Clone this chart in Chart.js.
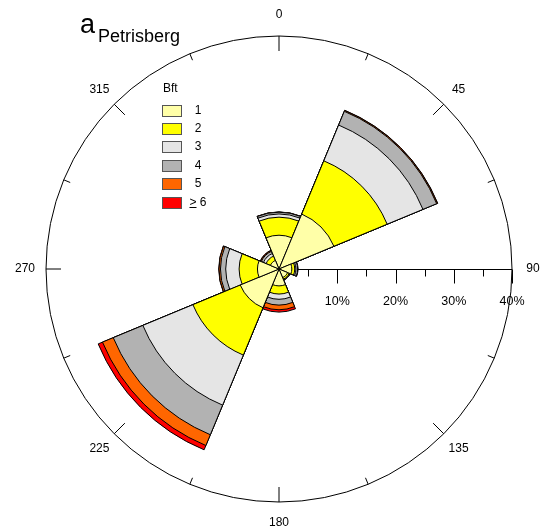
<!DOCTYPE html>
<html>
<head>
<meta charset="utf-8">
<title>Petrisberg wind rose</title>
<script src="https://cdn.jsdelivr.net/npm/chart.js@4/dist/chart.umd.min.js"></script>
<style>
  html, body { margin: 0; padding: 0; background: #fff; }
  #wrap { position: relative; width: 541px; height: 530px; overflow: hidden;
          font-family: "Liberation Sans", Arial, sans-serif; color: #000; }
  #rose { position: absolute; left: 0; top: 0; }
  .ttl { position: absolute; white-space: nowrap; line-height: 1; }
  #ttl-a { left: 80px; top: 10.5px; font-size: 27px; }
  #ttl-sub { left: 98px; top: 26.5px; font-size: 18px; }
  #legend-head { position: absolute; left: 163px; top: 82px; font-size: 12px; line-height: 1; }
  .lg-box { position: absolute; width: 18px; height: 10px; border: 1px solid #555; }
  .lg-txt { position: absolute; width: 30px; text-align: center; font-size: 12px; line-height: 1; }
  .ge { text-decoration: underline; }
</style>
</head>
<body>
<div id="wrap">
  <canvas id="rose" width="541" height="530"></canvas>
  <div id="ttl-a" class="ttl">a</div>
  <div id="ttl-sub" class="ttl">Petrisberg</div>
  <div id="legend-head">Bft</div>
  <div id="legend"></div>
</div>
<script>
// Direction sectors (bearing of sector centre, degrees)
const directions = ['0', '45', '90', '135', '180', '225', '270', '315'];

// Frequency (%) per direction for each Beaufort class
const bft1 = [5.8, 10.2, 2.2, 1.6, 2.9, 7.2, 3.7, 1.6];
const bft2 = [3.1, 9.9, 0.5, 0.3, 1.4, 8.8, 3.15, 0.8];
const bft3 = [0.55, 6.65, 0.2, 0.1, 0.9, 9.3, 2.3, 0.5];
const bft4 = [0.3, 2.55, 0.3, 0.05, 1.0, 5.5, 0.9, 0.4];
const bft5 = [0.03, 0.15, 0.05, 0.0, 0.8, 2.0, 0.25, 0.15];
const bft6 = [0.02, 0.05, 0.0, 0.0, 0.4, 0.8, 0.05, 0.05];

const classLabels = ['1', '2', '3', '4', '5', '6'];
const classColors = ['#FFFFA8', '#FFFF00', '#E5E5E5', '#B2B2B2', '#FF6600', '#FF0000'];

// Compass labels and radial scale ticks
const compassLabels = ['0', '45', '90', '135', '180', '225', '270', '315'];
const radialTicks = [10, 20, 30, 40];
const radialMinorTicks = [5, 15, 25, 35];
const radialMax = 40;

// Stack the classes: each dataset holds the running total, so the
// smaller totals are painted over the larger ones.
const classes = [bft1, bft2, bft3, bft4, bft5, bft6];
const running = new Array(directions.length).fill(0);
const datasets = classes.map((vals, i) => {
  const cum = vals.map((v, j) => (running[j] += v));
  return {
    label: classLabels[i],
    data: cum.slice(),
    backgroundColor: classColors[i],
    borderColor: '#000',
    borderWidth: 1
  };
});

const FONT = '"Liberation Sans", Arial, sans-serif';

const compassPlugin = {
  id: 'compass',
  beforeDatasetsDraw(chart) {
    // radial scale drawn along the east axis
    const s = chart.scales.r;
    const ctx = chart.ctx;
    const cx = s.xCenter, cy = s.yCenter + 0.5;
    const R = s.getDistanceFromCenterForValue(radialMax);
    ctx.save();
    ctx.strokeStyle = '#000';
    ctx.lineWidth = 1;
    ctx.beginPath();
    ctx.moveTo(cx, cy);
    ctx.lineTo(cx + R, cy);
    ctx.stroke();
    const tick = (v, len) => {
      const x = Math.round(cx + s.getDistanceFromCenterForValue(v)) + 0.5;
      ctx.beginPath();
      ctx.moveTo(x, cy);
      ctx.lineTo(x, cy + len);
      ctx.stroke();
    };
    radialMinorTicks.forEach(v => tick(v, 7));
    radialTicks.forEach(v => tick(v, 14));
    ctx.fillStyle = '#000';
    ctx.font = '12.5px ' + FONT;
    ctx.textAlign = 'center';
    ctx.textBaseline = 'middle';
    radialTicks.forEach(v => {
      ctx.fillText(v + '%', cx + s.getDistanceFromCenterForValue(v), cy + 32);
    });
    ctx.restore();
  },
  afterDatasetsDraw(chart) {
    const s = chart.scales.r;
    const ctx = chart.ctx;
    const cx = s.xCenter, cy = s.yCenter;
    const R = s.getDistanceFromCenterForValue(radialMax);
    ctx.save();
    ctx.strokeStyle = '#000';
    ctx.lineWidth = 1;
    for (let k = 0; k < 16; k++) {
      const b = k * 22.5;
      if (b === 90) continue;
      const a = (b - 90) * Math.PI / 180;
      const len = k % 2 === 0 ? 15 : 7;
      ctx.beginPath();
      ctx.moveTo(cx + R * Math.cos(a), cy + R * Math.sin(a));
      ctx.lineTo(cx + (R - len) * Math.cos(a), cy + (R - len) * Math.sin(a));
      ctx.stroke();
    }
    ctx.fillStyle = '#000';
    ctx.font = '12px ' + FONT;
    ctx.textAlign = 'center';
    ctx.textBaseline = 'middle';
    compassLabels.forEach((t, i) => {
      const a = (i * 45 - 90) * Math.PI / 180;
      ctx.fillText(t, cx + (R + 21) * Math.cos(a), cy + (R + 21) * Math.sin(a));
    });
    ctx.restore();
  }
};

new Chart(document.getElementById('rose'), {
  type: 'polarArea',
  data: { labels: directions, datasets },
  options: {
    responsive: false,
    animation: false,
    events: [],
    devicePixelRatio: 1,
    layout: { padding: { left: 46, right: 29, top: 36, bottom: 28 } },
    plugins: { legend: { display: false }, tooltip: { enabled: false } },
    scales: {
      r: {
        min: 0,
        max: radialMax,
        startAngle: -22.5,
        ticks: { display: false, stepSize: 10 },
        angleLines: { display: false },
        pointLabels: { display: false },
        grid: {
          circular: true,
          lineWidth: 1,
          color: ctx => (ctx.tick && ctx.tick.value === radialMax ? '#000' : 'rgba(0,0,0,0)')
        }
      }
    }
  },
  plugins: [compassPlugin]
});

// Legend built from the class arrays
const legend = document.getElementById('legend');
classLabels.forEach((lab, i) => {
  const y = 104.5 + i * 18.4;
  const box = document.createElement('div');
  box.className = 'lg-box';
  box.style.left = '162px';
  box.style.top = y + 'px';
  box.style.background = classColors[i];
  legend.appendChild(box);
  const txt = document.createElement('div');
  txt.className = 'lg-txt';
  txt.style.left = '183px';
  txt.style.top = (y - 1) + 'px';
  if (i === classLabels.length - 1) {
    txt.innerHTML = '<span class="ge">&gt;</span> ' + lab;
  } else {
    txt.textContent = lab;
  }
  legend.appendChild(txt);
});
</script>
</body>
</html>
